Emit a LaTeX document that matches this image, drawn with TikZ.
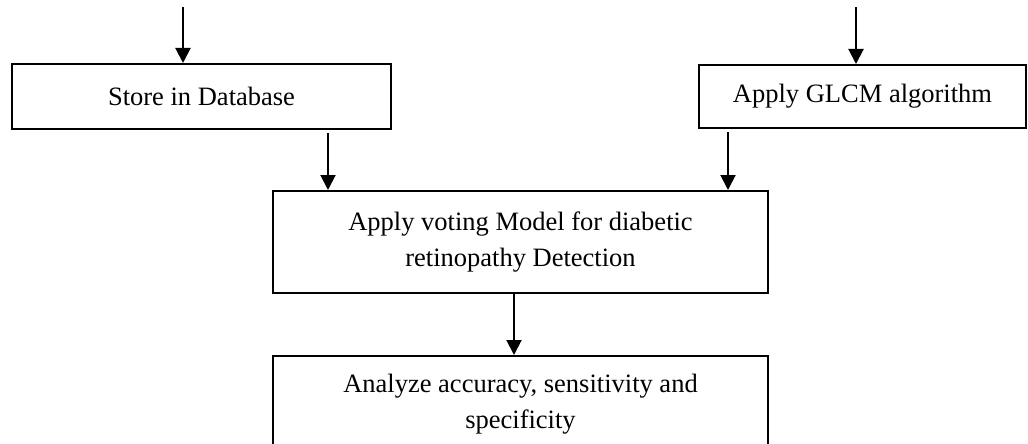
\documentclass[tikz,border=0pt]{standalone}
\usepackage{fontspec}
\setmainfont{Liberation Serif}
\usetikzlibrary{arrows.meta}
\begin{document}
\begin{tikzpicture}[x=1pt,y=-1pt,
  box/.style={draw,line width=2pt,rectangle,inner sep=0pt,align=center,
    font=\fontsize{26.5}{36}\selectfont},
  arr/.style={line width=2pt,-{Triangle[length=15pt,width=15pt]}}]
\clip (0,0) rectangle (1028,444);
\node[box,minimum width=379pt,minimum height=65pt] (b1) at (201.5,96.5) {Store in Database};
\node[box,minimum width=327pt,minimum height=63pt] (b2) at (862.5,96.5) {Apply GLCM algorithm};
\node[box,minimum width=495pt,minimum height=102pt] (b3) at (520.5,242) {Apply voting Model for diabetic\\retinopathy Detection};
\node[box,minimum width=495pt,minimum height=96pt] (b4) at (520.5,404) {Analyze accuracy, sensitivity and\\specificity};
\coordinate (in1) at (183,7);
\coordinate (in2) at (856,7);
\draw[arr] (in1) -- (in1 |- b1.north);
\draw[arr] (in2) -- (in2 |- b2.north);
\draw[arr] ([yshift=-3pt]328,0 |- b1.south) -- (328,0 |- b3.north);
\draw[arr] ([yshift=-3pt]728,0 |- b2.south) -- (728,0 |- b3.north);
\draw[arr] (514,0 |- b3.south) -- (514,0 |- b4.north);
\end{tikzpicture}
\end{document}
